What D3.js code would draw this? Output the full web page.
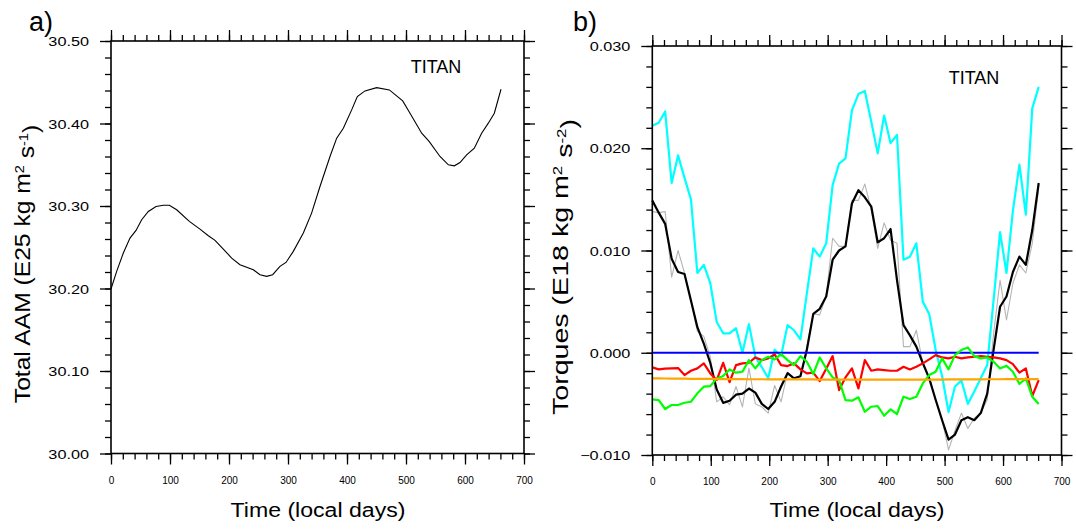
<!DOCTYPE html>
<html>
<head>
<meta charset="utf-8">
<script src="https://cdn.jsdelivr.net/npm/d3@7"></script>
<style>
  body { margin: 0; background: #fff; }
  text { font-family: "Liberation Sans", Arial, Helvetica, sans-serif; fill: #000; }
</style>
</head>
<body>
<svg width="1076" height="530"></svg>
<script>
// ---- data ----
// panel a: total AAM (E25 kg m2 s-1)
var aamDays = [0, 9.6, 20.9, 32.2, 42.4, 52, 63.3, 76.3, 88.7, 98.9, 111.3, 132.8, 150.8, 165, 176.3,
  190.4, 204.5, 218.6, 241.2, 252.5, 263.8, 274, 286.4, 296.6, 309, 326, 340, 354.2, 371.2, 382.5,
  393.8, 407.9, 417.5, 430.5, 450.3, 471.8, 494.4, 506.8, 526.6, 539.5, 557.6, 571.8, 581.9, 591.5,
  602.8, 615.8, 628.2, 639.5, 649.7, 661];
var aamValues = [30.1994, 30.2207, 30.243, 30.2611, 30.2704, 30.2833, 30.2934, 30.2994, 30.301, 30.301,
  30.2954, 30.2813, 30.272, 30.2639, 30.2583, 30.2478, 30.2369, 30.2288, 30.2228, 30.2167, 30.2147,
  30.2167, 30.2268, 30.2316, 30.245, 30.2672, 30.2914, 30.3236, 30.360, 30.3822, 30.3943, 30.4165,
  30.4326, 30.4395, 30.4435, 30.4407, 30.4274, 30.4125, 30.3882, 30.3781, 30.36, 30.3499, 30.3487,
  30.3527, 30.362, 30.3701, 30.3882, 30.4004, 30.4125, 30.4415];

// panel b: torques (E18 kg m2 s-2), sampled every ~11 days
var days = [0, 11.0, 22.0, 33.1, 44.1, 55.1, 66.1, 77.1, 88.1, 99.2, 110.2, 121.2, 132.2, 143.2, 154.2,
  165.3, 176.3, 187.3, 198.3, 209.3, 220.3, 231.4, 242.4, 253.4, 264.4, 275.4, 286.4, 297.5, 308.5,
  319.5, 330.5, 341.5, 352.6, 363.6, 374.6, 385.6, 396.6, 407.6, 418.6, 429.7, 440.7, 451.7, 462.7,
  473.7, 484.7, 495.8, 506.8, 517.8, 528.8, 539.8, 550.8, 561.9, 572.9, 583.9, 594.9, 605.9, 616.9,
  628.0, 639.0, 650.0, 661.0];

var dAamDt = [0.0138, 0.0137, 0.0138, 0.0074, 0.0100, 0.0078, 0.0051, 0.0021, 0.0016, -0.0004,
  -0.0048, -0.0043, -0.0051, -0.0033, -0.0053, -0.0015, -0.0050, -0.0053, -0.0059, -0.0032,
  -0.0048, -0.0019, -0.0025, -0.0023, 0.0006, 0.0038, 0.0037, 0.0056, 0.0112, 0.0104,
  0.0104, 0.0149, 0.0149, 0.0165, 0.0140, 0.0102, 0.0127, 0.0110, 0.0107, 0.0006,
  0.0006, 0.0022, -0.0010, -0.0024, -0.0046, -0.0066, -0.0095, -0.0076, -0.0059, -0.0074,
  -0.0064, -0.0059, -0.0046, 0.0019, 0.0071, 0.0032, 0.0068, 0.0086, 0.0078, 0.0107, 0.0162];

var torqueSum = [0.0149, 0.0137, 0.0126, 0.0092, 0.0079, 0.0077, 0.0051, 0.0025, 0.0009, -0.0010,
  -0.0036, -0.0049, -0.0047, -0.0041, -0.0040, -0.0035, -0.0039, -0.0050, -0.0055, -0.0048,
  -0.0033, -0.0020, -0.0025, -0.0023, 0.0003, 0.0038, 0.0043, 0.0055, 0.0091, 0.0100,
  0.0104, 0.0146, 0.0159, 0.0152, 0.0143, 0.0108, 0.0112, 0.0121, 0.0071, 0.0027,
  0.0017, 0.0006, -0.0010, -0.0025, -0.0046, -0.0066, -0.0085, -0.0080, -0.0066, -0.0063,
  -0.0066, -0.0059, -0.0040, 0.0003, 0.0045, 0.0055, 0.0079, 0.0094, 0.0086, 0.0120, 0.0166];

var torqueCyan = [0.0222, 0.0225, 0.0236, 0.0166, 0.0193, 0.0171, 0.0150, 0.0078, 0.0086, 0.0068,
  0.0030, 0.0019, 0.0019, 0.0024, 0.0000, 0.0028, -0.0004, -0.0014, -0.0025, 0.0003,
  -0.0003, 0.0027, 0.0022, 0.0013, 0.0058, 0.0102, 0.0094, 0.0107, 0.0164, 0.0185,
  0.0190, 0.0237, 0.0253, 0.0256, 0.0226, 0.0195, 0.0232, 0.0205, 0.0213, 0.0091,
  0.0094, 0.0107, 0.0050, 0.0038, 0.0003, -0.0023, -0.0058, -0.0033, -0.0027, -0.0050,
  -0.0038, -0.0025, -0.0012, 0.0052, 0.0118, 0.0078, 0.0139, 0.0184, 0.0135, 0.0239, 0.0260];

var torqueRed = [-0.00143, -0.00163, -0.00156, -0.00153, -0.00150, -0.00218, -0.00176, -0.00153, -0.00104, -0.00202,
  -0.00267, -0.00098, -0.00287, -0.00121, -0.00104, -0.00098, -0.00046, -0.00072, -0.00055, -0.00016,
  -0.00121, -0.00130, -0.00104, -0.00163, -0.00202, -0.00195, -0.00277, -0.00156, -0.00033, -0.00365,
  -0.00241, -0.00153, -0.00349, -0.00072, -0.00176, -0.00163, -0.00169, -0.00176, -0.00176, -0.00137,
  -0.00163, -0.00137, -0.00104, -0.00065, -0.00023, -0.00046, -0.00055, -0.00039, -0.00055, -0.00046,
  -0.00039, -0.00033, -0.00039, -0.00046, -0.00055, -0.00072, -0.00111, -0.00195, -0.00153, -0.00423, -0.00267];

var torqueGreen = [-0.00456, -0.00463, -0.00550, -0.00511, -0.00511, -0.00489, -0.00479, -0.00397, -0.00332, -0.00326,
  -0.00251, -0.00228, -0.00163, -0.00195, -0.00186, -0.00072, -0.00153, -0.00072, -0.00039, -0.00065,
  -0.00013, -0.00072, -0.00121, -0.00033, -0.00088, -0.00208, -0.00046, -0.00153, -0.00241, -0.00267,
  -0.00463, -0.00469, -0.00436, -0.00577, -0.00528, -0.00521, -0.00616, -0.00554, -0.00599, -0.00430,
  -0.00453, -0.00430, -0.00300, -0.00218, -0.00186, -0.00055, -0.00163, -0.00023, 0.00026, 0.00052,
  -0.00033, -0.00055, -0.00046, -0.00088, -0.00153, -0.00127, -0.00186, -0.00306, -0.00251, -0.00430, -0.00502];

var torqueOrange = [-0.00250, -0.00251, -0.00252, -0.00253, -0.00253, -0.00254, -0.00255, -0.00255, -0.00256, -0.00256,
  -0.00257, -0.00257, -0.00258, -0.00258, -0.00258, -0.00259, -0.00259, -0.00259, -0.00260, -0.00260,
  -0.00260, -0.00260, -0.00261, -0.00261, -0.00261, -0.00261, -0.00262, -0.00262, -0.00262, -0.00262,
  -0.00262, -0.00262, -0.00263, -0.00263, -0.00263, -0.00263, -0.00263, -0.00263, -0.00263, -0.00263,
  -0.00263, -0.00262, -0.00262, -0.00262, -0.00262, -0.00262, -0.00261, -0.00261, -0.00261, -0.00260,
  -0.00260, -0.00260, -0.00259, -0.00259, -0.00259, -0.00258, -0.00258, -0.00258, -0.00257, -0.00257, -0.00257];

var torqueBlue = [0, 0, 0, 0, 0, 0, 0, 0, 0, 0, 0, 0, 0, 0, 0, 0, 0, 0, 0, 0,
  0, 0, 0, 0, 0, 0, 0, 0, 0, 0, 0, 0, 0, 0, 0, 0, 0, 0, 0, 0,
  0, 0, 0, 0, 0, 0, 0, 0, 0, 0, 0, 0, 0, 0, 0, 0, 0, 0, 0, 0, 0];

// tick values
var xTicks  = [0, 100, 200, 300, 400, 500, 600, 700];
var yTicksA = [30.0, 30.1, 30.2, 30.3, 30.4, 30.5];
var yTicksB = [-0.010, 0.000, 0.010, 0.020, 0.030];

var svg = d3.select("svg");

// Draw the box, the major/minor ticks on all four sides and the tick labels
function drawAxes(x, y, yMajor, yMinor, yFmt) {
  var xr = x.range(), yr = y.range();
  var xMinor = d3.range(0, 701, 20);
  var sides = [
    [d3.axisBottom, "translate(0," + yr[0] + ")", x, xTicks, xMinor, true],
    [d3.axisTop,    "translate(0," + yr[1] + ")", x, xTicks, xMinor, false],
    [d3.axisLeft,   "translate(" + xr[0] + ",0)", y, yMajor, yMinor, true],
    [d3.axisRight,  "translate(" + xr[1] + ",0)", y, yMajor, yMinor, false]
  ];
  sides.forEach(function(s) {
    var minor = svg.append("g").attr("transform", s[1])
      .call(s[0](s[2]).tickValues(s[4]).tickSize(6).tickSizeOuter(0).tickFormat(""));
    var major = svg.append("g").attr("transform", s[1])
      .call(s[0](s[2]).tickValues(s[3]).tickSize(11).tickSizeOuter(0)
        .tickPadding(s[0] === d3.axisLeft ? 11 : 12)
        .tickFormat(s[5] ? (s[2] === x ? d3.format("d") : yFmt) : ""));
    [minor, major].forEach(function(a) {
      a.select(".domain").remove();
      a.selectAll("line").attr("stroke", "#000").attr("stroke-width", 1.3);
    });
    major.selectAll("text").attr("fill", "#000")
      .attr("font-family", "Liberation Sans, Arial, sans-serif");
    if (s[2] === x) {
      major.selectAll("text").attr("font-size", 10).attr("dy", "0.71em");
    } else {
      // y labels are drawn wider in the original
      major.selectAll("text").attr("font-size", 12.5).attr("dy", "0.36em")
        .each(function() {
          var w = this.getComputedTextLength();
          d3.select(this).attr("textLength", w * 1.3).attr("lengthAdjust", "spacingAndGlyphs");
        });
    }
  });
  svg.append("rect")
    .attr("x", xr[0]).attr("y", yr[1])
    .attr("width", xr[1] - xr[0]).attr("height", yr[0] - yr[1])
    .attr("fill", "none").attr("stroke", "#000").attr("stroke-width", 1.6);
}

function xTitle(cx) {
  svg.append("text")
    .attr("transform", "translate(" + cx + ",517) scale(1.1,1)")
    .attr("text-anchor", "middle").attr("font-size", 21)
    .text("Time (local days)");
}

function yTitle(bx, cy, scale, main, sup1, sup2) {
  var t = svg.append("text")
    .attr("transform", "translate(" + bx + "," + cy + ") rotate(-90) scale(" + scale + ",1)")
    .attr("text-anchor", "middle").attr("font-size", 22);
  t.append("tspan").text(main);
  t.append("tspan").attr("dy", "-0.45em").attr("font-size", 13).text(sup1);
  t.append("tspan").attr("dy", "0.45em").text(" s");
  t.append("tspan").attr("dy", "-0.45em").attr("font-size", 13).text(sup2);
  t.append("tspan").attr("dy", "0.45em").text(")");
}

// ---- panel a ----
var xA = d3.scaleLinear().domain([0, 700]).range([111, 524]);
var yA = d3.scaleLinear().domain([30.0, 30.5]).range([453.5, 41]);

svg.append("path")
  .datum(d3.zip(aamDays, aamValues))
  .attr("fill", "none").attr("stroke", "#000").attr("stroke-width", 1.1)
  .attr("d", d3.line().x(function(d) { return xA(d[0]); }).y(function(d) { return yA(d[1]); }));

drawAxes(xA, yA, yTicksA, d3.range(30.0, 30.501, 0.02), d3.format(".2f"));
xTitle(318);
yTitle(30, 264, 1.12, "Total AAM (E25 kg m", "2", "-1");
svg.append("text").attr("x", 29).attr("y", 31).attr("font-size", 27).text("a)");
svg.append("text").attr("x", 436).attr("y", 73).attr("text-anchor", "middle")
  .attr("font-size", 18).text("TITAN");

// ---- panel b ----
var xB = d3.scaleLinear().domain([0, 700]).range([652.3, 1061.5]);
var yB = d3.scaleLinear().domain([-0.010, 0.030]).range([455, 46]);

var lineB = d3.line().x(function(d) { return xB(d[0]); }).y(function(d) { return yB(d[1]); });
var seriesB = [
  [dAamDt,       "#b4b4b4", 1.1],
  [torqueCyan,   "#00ffff", 2.2],
  [torqueSum,    "#000000", 2.2],
  [torqueBlue,   "#0000ff", 2.2],
  [torqueRed,    "#ff0000", 2.2],
  [torqueGreen,  "#00ff00", 2.2],
  [torqueOrange, "#ffa500", 2.2]
];
seriesB.forEach(function(s) {
  svg.append("path")
    .datum(d3.zip(days, s[0]))
    .attr("fill", "none").attr("stroke", s[1]).attr("stroke-width", s[2])
    .attr("stroke-linejoin", "round")
    .attr("d", lineB);
});

drawAxes(xB, yB, yTicksB, d3.range(-0.010, 0.0301, 0.002), d3.format(".3f"));
xTitle(857);
yTitle(568, 267, 1.3, "Torques (E18 kg m", "2", "-2");
svg.append("text").attr("x", 573).attr("y", 31).attr("font-size", 27).text("b)");
svg.append("text").attr("x", 974).attr("y", 84).attr("text-anchor", "middle")
  .attr("font-size", 18).text("TITAN");
</script>
</body>
</html>
